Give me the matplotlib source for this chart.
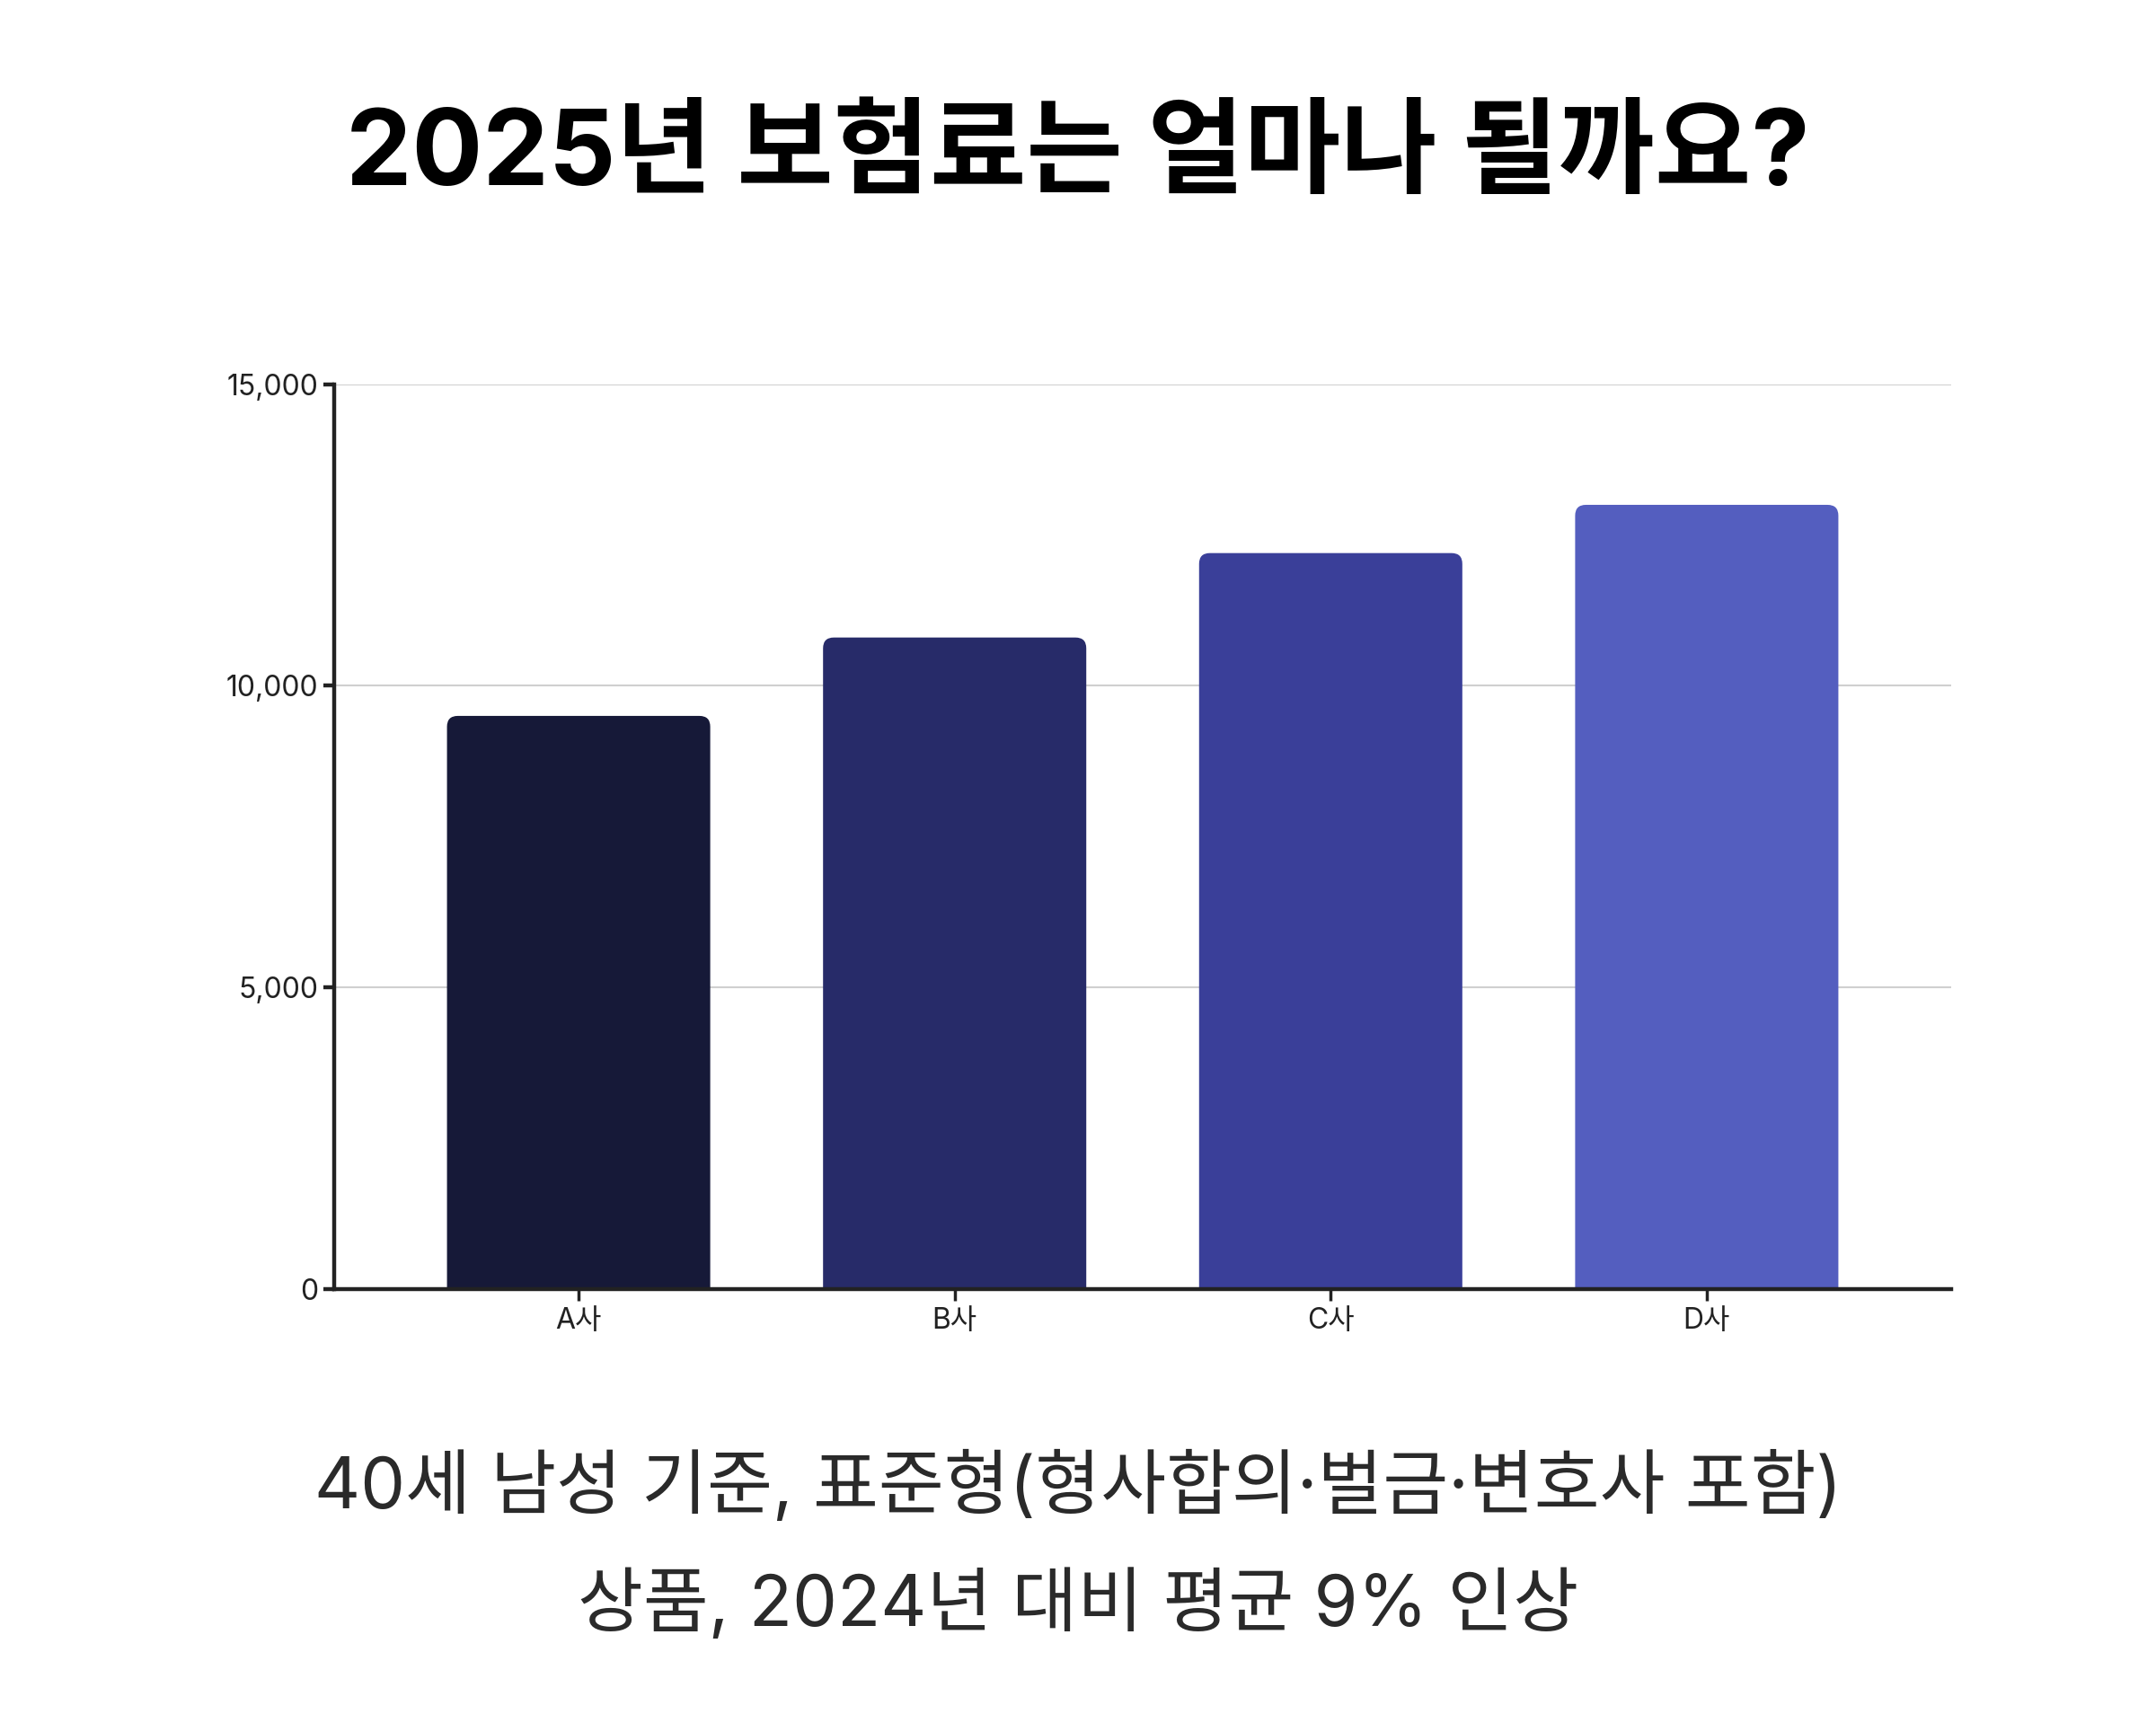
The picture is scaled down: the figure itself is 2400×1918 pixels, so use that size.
import matplotlib
matplotlib.use("Agg")
import matplotlib.pyplot as plt
from matplotlib.patches import FancyBboxPatch
from matplotlib.ticker import FuncFormatter

FONTS = ["Inter", "Noto Sans CJK KR", "DejaVu Sans"]
plt.rcParams["font.family"] = FONTS

TITLE = "2025년 보험료는 얼마나 될까요?"
SUBTITLE_1 = "40세 남성 기준, 표준형(형사합의·벌금·변호사 포함)"
SUBTITLE_2 = "상품, 2024년 대비 평균 9% 인상"

companies = ["A사", "B사", "C사", "D사"]
premiums = [9500, 10800, 12200, 13000]
bar_colors = ["#161938", "#272B69", "#3A3F99", "#545EBF"]
y_ticks = [0, 5000, 10000, 15000]

fig = plt.figure(figsize=(24, 19.18), dpi=100)
ax = fig.add_axes([0.155, 0.252, 0.750, 0.525])

x = list(range(len(companies)))
bars = ax.bar(x, premiums, width=0.7, color=bar_colors, zorder=3)
ax.set_xlim(-0.65, len(companies) - 0.35)
ax.set_ylim(0, 15000)

# swap the plain bars for ones with rounded top corners
fig.canvas.draw()
p0 = ax.transData.transform((0, 0))
p1 = ax.transData.transform((1, 1))
px_per_x = p1[0] - p0[0]
px_per_y = p1[1] - p0[1]
radius_px = 12
r_x = radius_px / px_per_x
aspect = px_per_x / px_per_y
for bar in bars:
    bar.set_visible(False)
    bx, bw, bh = bar.get_x(), bar.get_width(), bar.get_height()
    pad_y = radius_px * 2 / px_per_y
    patch = FancyBboxPatch(
        (bx, -pad_y), bw, bh + pad_y,
        boxstyle=f"round,pad=0,rounding_size={r_x}",
        mutation_aspect=aspect,
        facecolor=bar.get_facecolor(), edgecolor="none",
        zorder=3, clip_on=True,
    )
    ax.add_patch(patch)
    patch.set_clip_path(ax.patch)

ax.set_yticks(y_ticks)
ax.yaxis.set_major_formatter(FuncFormatter(lambda v, _: f"{int(v):,}"))
ax.set_xticks(x)
ax.set_xticklabels(companies)
ax.grid(axis="y", color="#D0D0D0", linewidth=1.5, zorder=0)
ax.set_axisbelow(True)

for side in ["top", "right"]:
    ax.spines[side].set_visible(False)
for side in ["left", "bottom"]:
    ax.spines[side].set_color("#222222")
    ax.spines[side].set_linewidth(3.2)
    ax.spines[side].set_zorder(4)

ax.tick_params(axis="y", length=9, width=3.2, color="#222222",
               labelsize=23, labelcolor="#222222", pad=4)
ax.tick_params(axis="x", length=9, width=2.5, color="#222222",
               labelsize=23, labelcolor="#222222", pad=6)

fig.text(0.5, 0.909, TITLE, ha="center", va="center",
         fontsize=84, fontweight="bold", color="#000000")
fig.text(0.5, 0.137, SUBTITLE_1, ha="center", va="center",
         fontsize=57, color="#2A2A2A")
fig.text(0.5, 0.069, SUBTITLE_2, ha="center", va="center",
         fontsize=57, color="#2A2A2A")

fig.savefig("out.png", dpi=100, facecolor="white")
